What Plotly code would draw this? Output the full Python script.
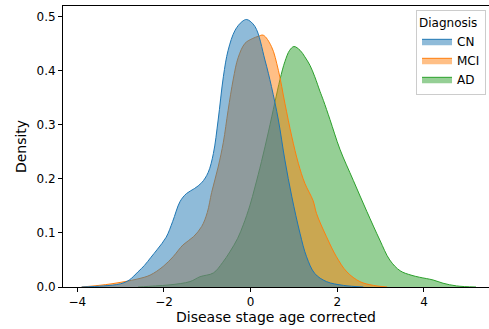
import plotly.graph_objects as go

# KDE curves (x = disease stage, y = density)
cn_x = [-3.9, -3.4, -3.0, -2.8, -2.6, -2.45, -2.3, -2.15, -1.95, -1.8, -1.63, -1.48,
        -1.3, -1.13, -0.98, -0.86, -0.75, -0.63, -0.52, -0.36, -0.2, -0.09, 0.1, 0.33,
        0.48, 0.64, 0.79, 0.95, 1.14, 1.29, 1.48, 1.75, 2.14, 2.6]
cn_y = [0.0, 0.002, 0.006, 0.013, 0.028, 0.04, 0.055, 0.07, 0.092, 0.121, 0.158, 0.173,
        0.182, 0.193, 0.212, 0.247, 0.309, 0.389, 0.438, 0.475, 0.491, 0.495, 0.482, 0.42,
        0.371, 0.309, 0.235, 0.167, 0.099, 0.056, 0.025, 0.01, 0.003, 0.0]

mci_x = [-3.9, -3.5, -3.2, -2.9, -2.6, -2.32, -2.02, -1.79, -1.56, -1.32, -1.13, -1.0,
         -0.9, -0.75, -0.63, -0.52, -0.4, -0.29, -0.13, 0.05, 0.18, 0.29, 0.48, 0.64,
         0.79, 0.95, 1.1, 1.25, 1.44, 1.52, 1.75, 1.98, 2.22, 2.52, 2.83, 3.15]
mci_y = [0.0, 0.003, 0.006, 0.01, 0.015, 0.022, 0.038, 0.056, 0.078, 0.093, 0.112, 0.138,
         0.175, 0.222, 0.268, 0.327, 0.385, 0.424, 0.451, 0.46, 0.464, 0.466, 0.445, 0.401,
         0.34, 0.278, 0.229, 0.192, 0.16, 0.136, 0.093, 0.056, 0.028, 0.01, 0.003, 0.0]

ad_x = [-2.6, -2.2, -1.86, -1.4, -1.17, -0.86, -0.65, -0.48, -0.3, -0.17, -0.02, 0.1,
        0.25, 0.41, 0.56, 0.68, 0.79, 0.9, 1.0, 1.14, 1.25, 1.37, 1.48, 1.6, 1.68, 1.83,
        2.06, 2.37, 2.68, 2.98, 3.21, 3.45, 3.7, 3.9, 4.21, 4.44, 4.75, 5.2]
ad_y = [0.0, 0.002, 0.004, 0.01, 0.019, 0.026, 0.045, 0.065, 0.09, 0.115, 0.15, 0.185,
        0.232, 0.287, 0.342, 0.385, 0.417, 0.438, 0.445, 0.438, 0.426, 0.41, 0.389, 0.362,
        0.345, 0.31, 0.255, 0.197, 0.14, 0.087, 0.05, 0.03, 0.022, 0.018, 0.013, 0.007,
        0.002, 0.0]

# drawn AD first so CN sits on top, like seaborn
groups = [
    ("AD", ad_x, ad_y, "#2ca02c", "rgba(44,160,44,0.5)"),
    ("MCI", mci_x, mci_y, "#ff7f0e", "rgba(255,127,14,0.5)"),
    ("CN", cn_x, cn_y, "#1f77b4", "rgba(31,119,180,0.5)"),
]

fig = go.Figure()
for name, xs, ys, line_c, fill_c in groups:
    fig.add_trace(go.Scatter(
        x=xs, y=ys, name=name, mode="lines",
        line=dict(color=line_c, width=1, shape="spline", smoothing=1.0),
        fill="tozeroy", fillcolor=fill_c,
    ))

axis_style = dict(
    showgrid=False, zeroline=False, showline=True, linecolor="black", linewidth=1,
    mirror=True, ticks="outside", ticklen=4, tickcolor="black",
    tickfont=dict(size=12, color="black"),
)

fig.update_layout(
    width=489, height=329,
    template="simple_white",
    font=dict(family="DejaVu Sans", size=12, color="black"),
    margin=dict(l=63, r=0, t=6, b=42, autoexpand=False),
    plot_bgcolor="white", paper_bgcolor="white",
    xaxis=dict(range=[-4.33, 5.5], tickvals=[-4, -2, 0, 2, 4],
               title=dict(text="Disease stage age corrected", standoff=2), **axis_style),
    yaxis=dict(range=[0, 0.52], tickvals=[0, 0.1, 0.2, 0.3, 0.4, 0.5], tickformat=".1f",
               title=dict(text="Density", standoff=6), **axis_style),
    legend=dict(
        title=dict(text="Diagnosis", font=dict(size=12)),
        traceorder="reversed", x=0.993, y=0.985, xanchor="right", yanchor="top",
        bgcolor="rgba(255,255,255,0.8)", bordercolor="#cccccc", borderwidth=1,
        font=dict(size=12), itemwidth=30, tracegroupgap=0,
    ),
    showlegend=True,
)

# drop the page's default body margin so the figure starts at the window corner
fig.write_html("out.html", config={"displayModeBar": False},
               post_script="document.body.style.margin='0';")
